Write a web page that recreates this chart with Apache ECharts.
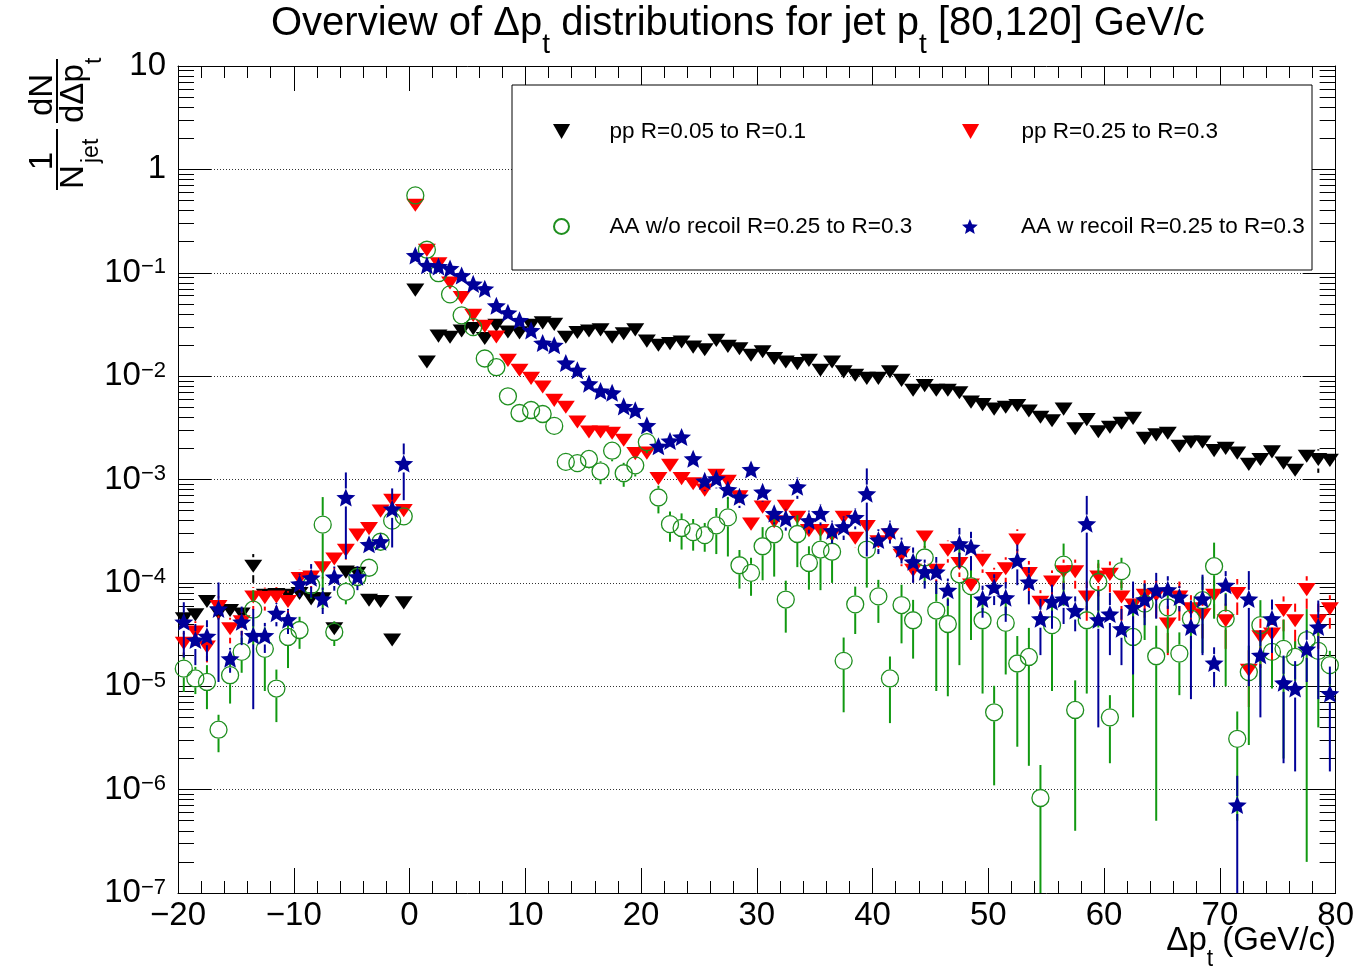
<!DOCTYPE html>
<html>
<head>
<meta charset="utf-8">
<title>Overview of Δpt distributions</title>
<script src="https://cdn.jsdelivr.net/npm/echarts@6/dist/echarts.min.js"></script>
<style>
  html, body { margin: 0; padding: 0; background: #ffffff; }
  #chart { width: 1357px; height: 970px; }
</style>
</head>
<body>
<div id="chart"></div>
<script>
// Bin centres of the Δpt histograms (1 GeV/c bins from -20 to 80)
const binCenters = [
  -19.5,-18.5,-17.5,-16.5,-15.5,-14.5,-13.5,-12.5,-11.5,-10.5,-9.5,-8.5,-7.5,-6.5,-5.5,-4.5,-3.5,-2.5,-1.5,-0.5,
  0.5,1.5,2.5,3.5,4.5,5.5,6.5,7.5,8.5,9.5,10.5,11.5,12.5,13.5,14.5,15.5,16.5,17.5,18.5,19.5,
  20.5,21.5,22.5,23.5,24.5,25.5,26.5,27.5,28.5,29.5,30.5,31.5,32.5,33.5,34.5,35.5,36.5,37.5,38.5,39.5,
  40.5,41.5,42.5,43.5,44.5,45.5,46.5,47.5,48.5,49.5,50.5,51.5,52.5,53.5,54.5,55.5,56.5,57.5,58.5,59.5,
  60.5,61.5,62.5,63.5,64.5,65.5,66.5,67.5,68.5,69.5,70.5,71.5,72.5,73.5,74.5,75.5,76.5,77.5,78.5,79.5
];

const seriesNames = [
  'pp R=0.05 to R=0.1',
  'pp R=0.25 to R=0.3',
  'AA w/o recoil R=0.25 to R=0.3',
  'AA w recoil R=0.25 to R=0.3'
];

// pp, R=0.05 -> R=0.1
const ppNarrow = [
  4.5e-5,4.9e-5,6.6e-5,5.1e-5,5.4e-5,5.0e-5,1.45e-4,7.6e-5,7.7e-5,7.6e-5,7.9e-5,7.0e-5,7.0e-5,3.6e-5,1.27e-4,1.24e-4,6.8e-5,6.6e-5,2.8e-5,6.4e-5,
  0.068,0.0137,0.0244,0.0238,0.0273,0.0288,0.0231,0.031,0.0267,0.0262,0.031,0.0327,0.0317,0.0238,0.0264,0.0273,0.028,0.0238,0.0257,0.028,
  0.0218,0.0199,0.0206,0.0214,0.0191,0.018,0.0222,0.0194,0.0184,0.0159,0.0172,0.0148,0.0137,0.0132,0.0142,0.0114,0.0137,0.011,0.0102,0.0095,
  0.0095,0.011,0.0091,0.0073,0.0081,0.0073,0.0073,0.0069,0.0056,0.0053,0.0048,0.0050,0.0052,0.0046,0.0040,0.0037,0.0048,0.0031,0.0038,0.0029,
  0.0032,0.0035,0.0039,0.0025,0.0027,0.0028,0.0021,0.0023,0.0023,0.0019,0.0020,0.0018,0.0014,0.00156,0.00185,0.00144,0.00123,0.00168,0.00156,0.00153
];
const ppNarrowErr = [
  6e-6,7e-6,9e-6,7e-6,8e-6,7e-6,4.5e-5,1e-5,1e-5,1e-5,1.1e-5,1e-5,1e-5,5e-6,1.7e-5,1.7e-5,9e-6,9e-6,4e-6,9e-6,
  0.002,0.0008,0.001,0.001,0.001,0.001,0.001,0.001,0.001,0.001,0.001,0.001,0.001,0.001,0.001,0.001,0.001,0.001,0.001,0.001,
  0.0008,0.0008,0.0008,0.0008,0.0008,0.0007,0.0008,0.0007,0.0007,0.0006,0.0007,0.0006,0.0006,0.0006,0.0006,0.0005,0.0006,0.0005,0.0005,0.0005,
  0.0005,0.0005,0.0005,0.0004,0.0004,0.0004,0.0004,0.0004,0.0003,0.0003,0.0003,0.0003,0.0003,0.0003,0.0003,0.0003,0.0003,0.0002,0.0003,0.0002,
  0.0002,0.0003,0.0003,0.0002,0.0002,0.0002,0.0002,0.0002,0.0002,0.0002,0.0002,0.0002,0.0002,0.0002,0.0002,0.0002,0.0002,0.0002,0.0004,0.0002
];

// pp, R=0.25 -> R=0.3
const ppWide = [
  2.6e-5,3.35e-5,2.4e-5,5.9e-5,3.6e-5,4.2e-5,7.3e-5,7.2e-5,7.3e-5,6.6e-5,1.1e-4,1.14e-4,1.4e-4,1.7e-4,2.07e-4,2.9e-4,3.35e-4,4.95e-4,6.3e-4,5.0e-4,
  0.45,0.165,0.122,0.0795,0.0574,0.0387,0.0303,0.0239,0.0142,0.0114,0.0095,0.00785,0.00583,0.0050,0.0036,0.00288,0.00288,0.0028,0.0024,0.00178,
  0.0018,0.00102,0.00137,0.00102,0.00091,0.00079,0.0011,0.00096,0.00068,0.00037,0.00054,0.00039,0.00055,0.00043,0.00032,0.00032,0.00029,0.00043,0.00027,0.00035,
  0.00025,0.00029,0.000185,0.000132,0.000278,0.000132,0.000207,0.000154,9.5e-5,0.000165,1.1e-4,1.37e-4,2.6e-4,1.23e-4,6.5e-5,1.02e-4,1.28e-4,1.28e-4,7.3e-5,1.14e-4,
  1.21e-4,7.3e-5,6.1e-5,7.6e-5,7.6e-5,4.0e-5,7.3e-5,5.6e-5,4.9e-5,7.6e-5,4.3e-5,7.9e-5,1.43e-5,3.0e-5,3.2e-5,5.4e-5,4.3e-5,8.6e-5,4.3e-5,5.6e-5
];
const ppWideErr = [
  7e-6,9e-6,7e-6,1.5e-5,1e-5,1.1e-5,1.8e-5,1.8e-5,1.8e-5,1.7e-5,2.5e-5,2.6e-5,3e-5,3.5e-5,4e-5,5e-5,5.5e-5,7e-5,8e-5,7e-5,
  0.005,0.003,0.002,0.0015,0.0012,0.001,0.0008,0.0007,0.0005,0.0004,0.0004,0.0003,0.0003,0.0003,0.0002,0.0002,0.0002,0.0002,0.0002,0.00015,
  0.00015,0.0001,0.00013,0.0001,0.0001,0.00009,0.00011,0.0001,0.00008,0.00006,0.00007,0.00006,0.00007,0.00006,0.00005,0.00005,0.00005,0.00006,0.00005,0.00006,
  0.00005,0.00005,0.00004,0.00003,0.00006,0.00003,0.00005,0.00004,0.00003,0.00004,0.00003,0.00004,0.00007,0.00004,0.00002,0.00003,0.00004,0.00004,0.00003,0.00004,
  0.00004,0.00003,0.00002,0.00003,0.00003,0.00002,0.00003,0.00002,0.00002,0.00003,0.00002,0.00003,0.000008,0.000015,0.000015,0.00002,0.00002,0.00003,0.00002,0.00002
];

// AA without recoils, R=0.25 -> R=0.3
const aaNoRecoil = [
  1.48e-5,1.19e-5,1.1e-5,3.8e-6,1.28e-5,2.15e-5,5.5e-5,2.3e-5,9.5e-6,3.0e-5,3.5e-5,9.5e-5,3.66e-4,3.35e-5,8.2e-5,1.14e-4,1.4e-4,2.5e-4,4.0e-4,4.4e-4,
  0.56,0.167,0.099,0.0618,0.0387,0.0298,0.0148,0.0122,0.00638,0.0044,0.0047,0.0043,0.0033,0.00148,0.00144,0.00158,0.0012,0.0019,0.00115,0.00137,
  0.0023,6.7e-4,3.7e-4,3.4e-4,3.1e-4,2.9e-4,3.6e-4,4.3e-4,1.48e-4,1.25e-4,2.26e-4,2.95e-4,6.9e-5,2.97e-4,1.56e-4,2.1e-4,2.0e-4,1.76e-5,6.2e-5,2.1e-4,
  7.4e-5,1.19e-5,6.1e-5,4.35e-5,1.76e-4,5.4e-5,4.0e-5,1.21e-4,9.3e-5,4.35e-5,5.6e-6,4.1e-5,1.66e-5,1.92e-5,8.3e-7,3.9e-5,1.5e-4,5.9e-6,4.35e-5,1.02e-4,
  5.0e-6,1.3e-4,3.0e-5,6.3e-5,1.95e-5,5.8e-5,2.07e-5,4.5e-5,6.8e-5,1.45e-4,4.5e-5,3.1e-6,1.37e-5,3.9e-5,2.15e-5,2.3e-5,1.92e-5,2.8e-5,2.2e-5,1.6e-5
];
const aaNoRecoilErr = [
  6e-6,3.5e-6,5e-6,1.5e-6,6e-6,8e-6,3e-5,1.4e-5,5e-6,1.5e-5,1.2e-5,2.5e-5,3.1e-4,9e-6,2e-5,2e-5,2.5e-5,4e-5,6e-5,6e-5,
  0.005,0.003,0.002,0.0015,0.001,0.001,0.0008,0.0007,0.0005,0.0004,0.0004,0.0004,0.0003,0.0002,0.0002,0.0003,0.0003,0.0004,0.0003,0.0003,
  0.0005,0.0002,0.00012,0.00013,0.000105,0.00009,0.00017,0.00025,0.00006,0.00005,0.00012,0.00018,0.000036,0.000155,0.00007,0.000125,0.0001,0.000012,0.00003,0.00012,
  0.000033,0.0000075,0.000035,0.000025,0.00008,0.000045,0.000032,0.000105,0.000065,0.000035,0.0000045,0.000028,0.000014,0.0000175,0.0000009,0.00003,0.00009,0.0000055,0.000035,0.000065,
  0.0000032,0.000045,0.000025,0.000035,0.000019,0.000037,0.0000125,0.000022,0.000047,0.0001,0.000035,0.0000026,0.000011,0.000029,0.000012,0.000021,0.000008,0.0000278,0.000018,0.000006
];

// AA with recoils, R=0.25 -> R=0.3
const aaRecoil = [
  4.2e-5,2.8e-5,3.05e-5,5.6e-5,1.85e-5,4.2e-5,3.1e-5,3.1e-5,5.1e-5,4.4e-5,9.8e-5,1.12e-4,7.0e-5,1.14e-4,6.7e-4,1.15e-4,2.36e-4,2.5e-4,5.2e-4,1.43e-3,
  0.147,0.118,0.115,0.11,0.094,0.078,0.070,0.048,0.041,0.0346,0.0277,0.0209,0.0199,0.0134,0.0114,0.00846,0.00718,0.0069,0.0051,0.00467,
  0.00334,0.0021,0.00236,0.00258,0.00159,0.00097,0.00102,0.0008,0.00068,0.00125,0.00076,0.00047,0.00042,0.00085,0.0004,0.00047,0.00032,0.00035,0.00043,0.00073,
  0.00026,0.00032,2.14e-4,1.6e-4,1.28e-4,1.28e-4,8.5e-5,2.4e-4,2.22e-4,7.0e-5,9.1e-5,7.2e-5,1.65e-4,1.02e-4,4.5e-5,6.6e-5,7.0e-5,5.4e-5,3.74e-4,4.4e-5,
  5.0e-5,3.6e-5,5.8e-5,6.9e-5,8.5e-5,8.6e-5,7.3e-5,3.75e-5,7.0e-5,1.68e-5,9.5e-5,7.1e-7,7.0e-5,2.0e-5,4.5e-5,1.08e-5,9.5e-6,2.3e-5,3.75e-5,8.5e-6
];
const aaRecoilErr = [
  2.3e-5,1.2e-5,1.3e-5,4.5e-5,5e-6,1.7e-5,2.5e-5,1e-5,1.3e-5,1.2e-5,2.5e-5,4e-5,2e-5,3e-5,5e-4,3e-5,4e-5,4e-5,3e-4,8e-4,
  0.005,0.004,0.004,0.004,0.003,0.003,0.003,0.002,0.002,0.002,0.0015,0.0012,0.0012,0.001,0.0008,0.0007,0.0006,0.0006,0.0005,0.0005,
  0.0004,0.0003,0.0003,0.0003,0.00025,0.0002,0.0002,0.00015,0.00015,0.0002,0.00015,0.0001,0.0001,0.0002,0.0001,0.00011,0.00008,0.00009,0.0001,0.00055,
  0.00007,0.00008,0.00006,0.00006,0.00004,0.00005,0.000025,0.0001,0.00009,0.000024,0.00003,0.00003,0.00007,0.00004,0.000025,0.00003,0.00003,0.00002,0.00032,0.00004,
  0.00003,0.00002,0.000045,0.00003,0.00004,0.00003,0.00002,0.00003,0.00005,0.000007,0.000035,0.00000065,0.00006,0.000015,0.000024,0.000009,0.000008,0.000012,0.00003,0.000007
];

// Axis ranges
const X_MIN = -20, X_MAX = 80, X_STEP = 10;
const Y_MIN = 1e-7, Y_MAX = 10;

const FONT = '"Liberation Sans", Arial, Helvetica, sans-serif';
const COLORS = ['#000000', '#ff0000', '#1f8f1f', '#000099'];
const TRI_DOWN = 'path://M0,0 L16,0 L8,14 Z';
const STAR = 'path://M10,0 L12.65,6.36 L19.51,6.91 L14.28,11.39 L15.88,18.09 L10,14.5 L4.12,18.09 L5.72,11.39 L0.49,6.91 L7.35,6.36 Z';

const chart = echarts.init(document.getElementById('chart'), null, { renderer: 'canvas' });

// Vertical error bars, left open around the marker like ROOT does
function errorBars(vals, errs, color, z) {
  return {
    type: 'custom',
    xAxisIndex: 0, yAxisIndex: 0,
    z: z, clip: true, silent: true,
    data: binCenters.map((x, i) => [x, vals[i], errs[i]]),
    encode: { x: 0, y: 1 },
    renderItem: function (params, api) {
      const x = api.value(0), v = api.value(1), e = api.value(2);
      const c = api.coord([x, v]);
      const hi = api.coord([x, v + e]);
      const lo = api.coord([x, Math.max(v - e, Y_MIN)]);
      const gap = 9;
      const kids = [];
      const st = { stroke: color, lineWidth: 2 };
      if (c[1] - hi[1] > gap) kids.push({ type: 'line', shape: { x1: c[0], y1: hi[1], x2: c[0], y2: c[1] - gap }, style: st });
      if (lo[1] - c[1] > gap) kids.push({ type: 'line', shape: { x1: c[0], y1: c[1] + gap, x2: c[0], y2: lo[1] }, style: st });
      return { type: 'group', children: kids };
    }
  };
}

function markers(name, vals, symbol, size, itemStyle, z) {
  return {
    name: name, type: 'scatter',
    xAxisIndex: 0, yAxisIndex: 0, z: z,
    symbol: symbol, symbolSize: size, symbolKeepAspect: true,
    itemStyle: Object.assign({ opacity: 1 }, itemStyle),
    emphasis: { disabled: true },
    data: binCenters.map((x, i) => [x, vals[i]])
  };
}

const supRich = {
  b: { fontSize: 33, fontFamily: FONT, color: '#000', lineHeight: 33, padding: [8, 0, 0, 0], verticalAlign: 'bottom' },
  e: { fontSize: 22, fontFamily: FONT, color: '#000', lineHeight: 22, verticalAlign: 'top' }
};

function yLabel(v) {
  const p = Math.round(Math.log10(v));
  if (p === 1) return '10';
  if (p === 0) return '1';
  return '{b|10}{e|' + (p < 0 ? '\u2212' : '') + Math.abs(p) + '}';
}
function xLabel(v) {
  return v < 0 ? '\u2212' + Math.abs(v) : String(v);
}

const xBase = {
  type: 'value', min: X_MIN, max: X_MAX, interval: X_STEP,
  axisLine: { show: true, onZero: false, lineStyle: { color: '#000', width: 1 } },
  axisTick: { show: true, inside: true, length: 25, lineStyle: { color: '#000', width: 1 } },
  minorTick: { show: true, splitNumber: 5, length: 12, lineStyle: { color: '#000', width: 1 } },
  splitLine: { show: false }
};
const yBase = {
  type: 'log', logBase: 10, min: Y_MIN, max: Y_MAX, splitNumber: 8,
  axisLine: { show: true, onZero: false, lineStyle: { color: '#000', width: 1 } },
  axisTick: { show: true, inside: true, length: 33, lineStyle: { color: '#000', width: 1 } },
  minorTick: { show: true, splitNumber: 9, length: 16, lineStyle: { color: '#000', width: 1 } }
};

const legendPlaces = [
  { left: 553, top: 120, itemWidth: 86 },
  { left: 962, top: 120, itemWidth: 92 },
  { left: 553, top: 215, itemWidth: 86 },
  { left: 962, top: 215, itemWidth: 92 }
];

const yTitleFont = { fontSize: 33, fontFamily: FONT, fill: '#000' };
const subFont = { fontSize: 23, fontFamily: FONT, fill: '#000' };

const option = {
  animation: false,
  backgroundColor: '#ffffff',
  title: {
    text: '{a|Overview of \u0394p}{s|t}{a| distributions for jet p}{s|t}{a| [80,120] GeV/c}',
    left: 271, top: 4, padding: 0,
    textStyle: {
      fontWeight: 'normal',
      rich: {
        a: { fontSize: 40, fontFamily: FONT, fontWeight: 'normal', color: '#000', lineHeight: 44, verticalAlign: 'top' },
        s: { fontSize: 28, fontFamily: FONT, fontWeight: 'normal', color: '#000', lineHeight: 28, padding: [27, 0, 0, 0], verticalAlign: 'top' }
      }
    }
  },
  grid: { left: 178, right: 21, top: 66, bottom: 77 },
  legend: seriesNames.map((n, i) => ({
    data: [n],
    left: legendPlaces[i].left, top: legendPlaces[i].top,
    itemWidth: legendPlaces[i].itemWidth, itemHeight: 15,
    padding: 0, selectedMode: false,
    textStyle: { fontSize: 22.5, fontFamily: FONT, color: '#000' }
  })),
  xAxis: [
    Object.assign({}, xBase, {
      position: 'bottom',
      axisLabel: { show: true, formatter: xLabel, fontSize: 33, fontFamily: FONT, color: '#000', margin: 6, showMinLabel: true, showMaxLabel: true }
    }),
    Object.assign({}, xBase, { position: 'top', axisLabel: { show: false } })
  ],
  yAxis: [
    Object.assign({}, yBase, {
      position: 'left',
      axisLabel: { show: true, formatter: yLabel, fontSize: 33, fontFamily: FONT, color: '#000', margin: 12, rich: supRich, showMinLabel: true, showMaxLabel: true },
      splitLine: { show: true, lineStyle: { color: '#333', type: [1, 2], width: 1 } }
    }),
    Object.assign({}, yBase, { position: 'right', axisLabel: { show: false }, splitLine: { show: false } })
  ],
  graphic: [
    // legend frame
    { type: 'rect', z: 3, shape: { x: 512, y: 85, width: 800, height: 185 },
      style: { fill: '#ffffff', stroke: '#000000', lineWidth: 1 } },
    // x-axis title
    { type: 'text', right: 21, top: 924,
      style: {
        text: '{a|\u0394p}{s|t}{a| (GeV/c)}',
        rich: {
          a: { fontSize: 33, fontFamily: FONT, fill: '#000', lineHeight: 36, verticalAlign: 'top' },
          s: { fontSize: 23, fontFamily: FONT, fill: '#000', lineHeight: 23, padding: [24, 0, 0, 0], verticalAlign: 'top' }
        }
      } },
    // y-axis title: (1/N_jet) dN/dΔp_t, written bottom-to-top
    { type: 'group', x: 0, y: 195, rotation: Math.PI / 2,
      children: [
        { type: 'text', style: Object.assign({ text: '1', x: 34, y: 43, align: 'center', verticalAlign: 'middle' }, yTitleFont) },
        { type: 'line', shape: { x1: 5, y1: 57, x2: 66, y2: 57 }, style: { stroke: '#000', lineWidth: 2 } },
        { type: 'text', style: Object.assign({ text: 'N', x: 6, y: 74, align: 'left', verticalAlign: 'middle' }, yTitleFont) },
        { type: 'text', style: Object.assign({ text: 'jet', x: 32, y: 92, align: 'left', verticalAlign: 'middle' }, subFont) },
        { type: 'text', style: Object.assign({ text: 'dN', x: 100, y: 43, align: 'center', verticalAlign: 'middle' }, yTitleFont) },
        { type: 'line', shape: { x1: 72, y1: 57, x2: 136, y2: 57 }, style: { stroke: '#000', lineWidth: 2 } },
        { type: 'text', style: Object.assign({ text: 'd\u0394p', x: 72, y: 74, align: 'left', verticalAlign: 'middle' }, yTitleFont) },
        { type: 'text', style: Object.assign({ text: 't', x: 131, y: 95, align: 'left', verticalAlign: 'middle' }, subFont) }
      ] }
  ],
  series: [
    errorBars(ppNarrow, ppNarrowErr, COLORS[0], 2),
    markers(seriesNames[0], ppNarrow, TRI_DOWN, [18, 15], { color: COLORS[0] }, 3),
    errorBars(ppWide, ppWideErr, COLORS[1], 4),
    markers(seriesNames[1], ppWide, TRI_DOWN, [18, 15], { color: COLORS[1] }, 5),
    errorBars(aaNoRecoil, aaNoRecoilErr, '#119911', 6),
    markers(seriesNames[2], aaNoRecoil, 'circle', 17, { color: 'rgba(255,255,255,0)', borderColor: COLORS[2], borderWidth: 1.3 }, 7),
    errorBars(aaRecoil, aaRecoilErr, COLORS[3], 8),
    markers(seriesNames[3], aaRecoil, STAR, 19, { color: COLORS[3] }, 9)
  ]
};

chart.setOption(option);
</script>
</body>
</html>
